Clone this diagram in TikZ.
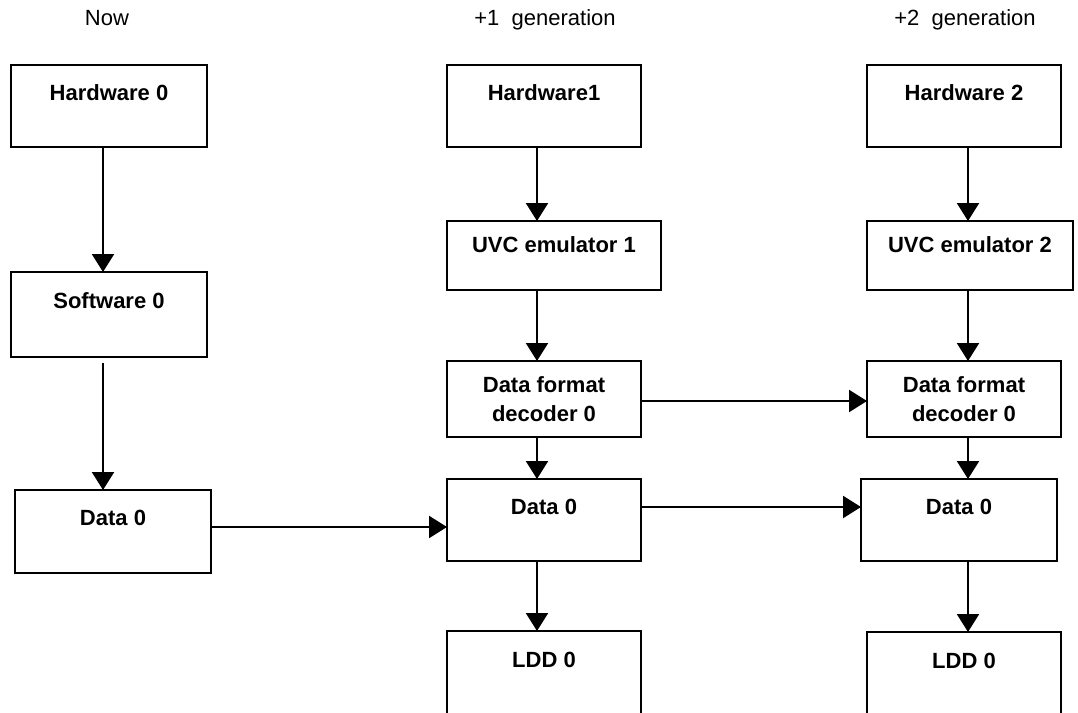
\documentclass[tikz,border=0pt]{standalone}
\usepackage{fontspec}
\setmainfont{Liberation Sans}
\usetikzlibrary{arrows.meta, positioning}

\begin{document}
\begin{tikzpicture}[
    x=1pt, y=1pt,
    node distance=35pt,
    every node/.style={font=\fontsize{11}{14.5}\selectfont},
    header/.style={anchor=base},
    block/.style={rectangle, draw, line width=1.15pt, outer sep=0pt, inner sep=0pt, minimum width=97pt, minimum height=41pt, text depth=13.5pt, font=\fontsize{11}{14.5}\selectfont\bfseries},
    emulator/.style={block, minimum height=34.5pt, text depth=11pt},
    decoder/.style={block, minimum height=38pt, text depth=, align=center},
    arrow/.style={-{Triangle[length=9pt, width=11pt]}, line width=1.15pt}
]
\useasboundingbox (0,0) rectangle (539,-356.5);

% Column titles
\node[header] (now) at (53.5,-12.75) {Now};
\node[header] (gen1) at (272.5,-12.75) {+1~ generation};
\node[header] (gen2) at (482.5,-12.75) {+2~ generation};

% Now
\node[block, minimum width=98pt] (hw0) at (54.5,-53) {Hardware 0};
\node[block, minimum width=98pt, minimum height=42.5pt, below=62.5pt of hw0] (sw0) {Software 0};
\node[block, minimum width=98pt, minimum height=41.5pt, below=66.5pt of sw0, xshift=2pt] (data0) {Data 0};

% +1 generation
\node[block] (hw1) at (272,-53) {Hardware1};
\node[emulator, minimum width=107pt, below=37pt of hw1, xshift=5pt] (uvc1) {UVC emulator 1};
\node[decoder, below=35.5pt of uvc1, xshift=-5pt] (dec1) {Data format\\decoder 0};
\node[block, below=21pt of dec1] (data1) {Data 0};
\node[block, minimum height=42pt, below=35pt of data1] (ldd1) {LDD 0};

% +2 generation
\node[block] (hw2) at (482,-53) {Hardware 2};
\node[emulator, minimum width=103pt, below=37pt of hw2, xshift=3pt] (uvc2) {UVC emulator 2};
\node[decoder, below=35.5pt of uvc2, xshift=-3pt] (dec2) {Data format\\decoder 0};
\node[block, minimum width=98pt, below=21pt of dec2, xshift=-2.5pt] (data2) {Data 0};
\node[block, minimum height=42pt, below=35.5pt of data2, xshift=2.5pt] (ldd2) {LDD 0};

% Arrow columns
\coordinate (col0) at (51.5,0);
\coordinate (col1) at (268.5,0);
\coordinate (col2) at (484,0);

% Arrows
\draw[arrow] (hw0.south -| col0) -- (sw0.north -| col0);
\draw[arrow] ([yshift=-3pt]sw0.south -| col0) -- (data0.north -| col0);

\draw[arrow] (hw1.south -| col1) -- (uvc1.north -| col1);
\draw[arrow] (uvc1.south -| col1) -- (dec1.north -| col1);
\draw[arrow] (dec1.south -| col1) -- (data1.north -| col1);
\draw[arrow] (data1.south -| col1) -- (ldd1.north -| col1);

\draw[arrow] (hw2.south -| col2) -- (uvc2.north -| col2);
\draw[arrow] (uvc2.south -| col2) -- (dec2.north -| col2);
\draw[arrow] (dec2.south -| col2) -- (data2.north -| col2);
\draw[arrow] (data2.south -| col2) -- (ldd2.north -| col2);

\draw[arrow] ([yshift=2.25pt]data0.east) -- ([yshift=2.25pt]data0.east -| data1.west);
\draw[arrow] ([yshift=-1pt]dec1.east) -- ([yshift=-1pt]dec1.east -| dec2.west);
\draw[arrow] ([yshift=6.5pt]data1.east) -- ([yshift=6.5pt]data1.east -| data2.west);

\end{tikzpicture}
\end{document}
